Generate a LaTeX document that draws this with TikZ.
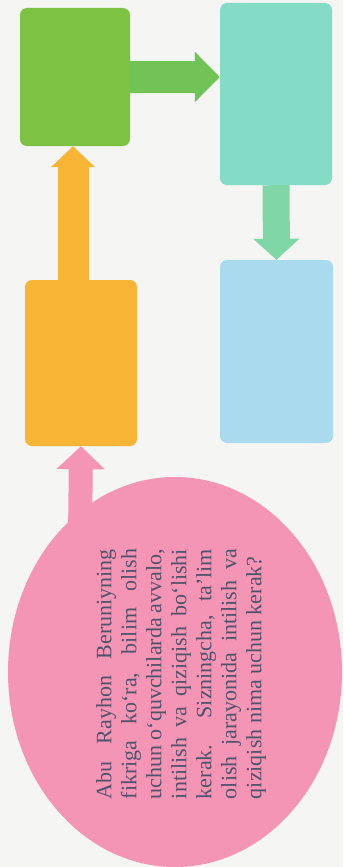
\documentclass[tikz,border=0pt]{standalone}
\usepackage{fontspec}
\setmainfont{Liberation Serif}
\usetikzlibrary{arrows.meta,shapes.geometric}

\definecolor{paper}{HTML}{F5F5F3}
\definecolor{leafgreen}{HTML}{7DC243}
\definecolor{arrowgreen}{HTML}{70C455}
\definecolor{aqua}{HTML}{84DCC6}
\definecolor{mint}{HTML}{7FD7A8}
\definecolor{skyblue}{HTML}{A9DAEE}
\definecolor{amber}{HTML}{F8B535}
\definecolor{rosepink}{HTML}{F495B5}
\definecolor{inkgray}{HTML}{50526A}

\tikzset{
  blankbox/.style={fill=#1, rounded corners=7pt, inner sep=0pt},
  fatarrow/.style={line width=#1, draw},
}

\begin{document}
\begin{tikzpicture}[x=1pt,y=-1pt]
  % page
  \fill[paper] (0,0) rectangle (343,867);
  \useasboundingbox (0,0) rectangle (343,867);
  %
  % empty boxes
  \node[blankbox=leafgreen, minimum width=110pt, minimum height=138pt] (fikr) at (75,77) {};
  \node[blankbox=aqua, minimum width=112pt, minimum height=182pt] (natija) at (276,94) {};
  \node[blankbox=skyblue, minimum width=113pt, minimum height=183pt] (xulosa) at (276.5,351.5) {};
  \node[blankbox=amber, minimum width=112pt, minimum height=166pt] (intilish) at (81,363) {};
  %
  % arrows between boxes
  \draw[fatarrow=31pt, amber, -{Triangle[width=43pt,length=21pt]}]
    ([xshift=-8pt]intilish.north) -- ([xshift=-8pt]intilish.north |- fikr.south);
  \draw[fatarrow=32pt, arrowgreen, -{Triangle[width=49pt,length=25pt]}]
    (fikr.east) -- (fikr.east -| natija.west);
  \draw[fatarrow=27pt, mint, -{Triangle[width=45pt,length=21pt]}]
    (natija.south) -- (xulosa.north);
  %
  % question bubble
  \coordinate (tail) at (80,540);
  \draw[fatarrow=24pt, rosepink, -{Triangle[width=47pt,length=23pt]}]
    (tail) -- (intilish.south);
  \node[ellipse, fill=rosepink, minimum width=334pt, minimum height=390pt, inner sep=0pt] (savol) at (175,672) {};
  \node[rotate=90, text=inkgray, align=left, inner sep=0pt,
        font=\fontsize{22}{25}\selectfont] (matn) at (181,674)
    {\makebox[250pt][s]{Abu Rayhon Beruniyning}\\
     \makebox[250pt][s]{fikriga ko‘ra, bilim olish}\\
     \makebox[250pt][s]{uchun o‘quvchilarda avvalo,}\\
     \makebox[250pt][s]{intilish va qiziqish bo‘lishi}\\
     \makebox[250pt][s]{kerak. Sizningcha, ta’lim}\\
     \makebox[250pt][s]{olish jarayonida intilish va}\\
     \makebox[250pt][l]{qiziqish nima uchun kerak?}};
\end{tikzpicture}
\end{document}
